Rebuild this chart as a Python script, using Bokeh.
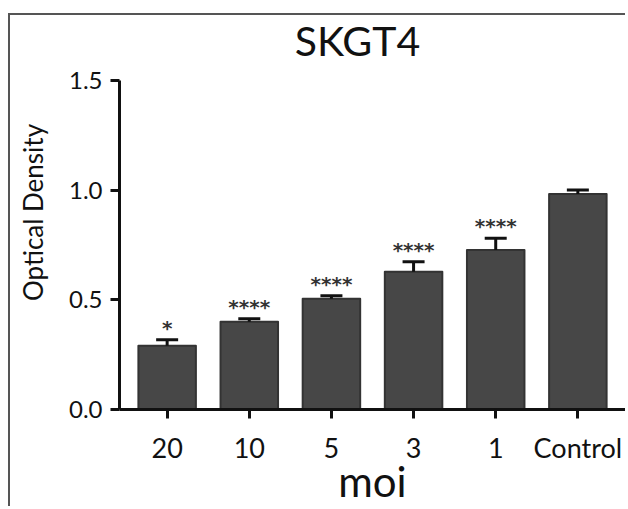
from bokeh.plotting import figure
from bokeh.models import (ColumnDataSource, FactorRange, Range1d, FixedTicker,
                          Whisker, TeeHead)
from bokeh.core.properties import value
from bokeh.embed import file_html
from bokeh.resources import INLINE

# ---- data ----
title_text = "SKGT4"
categories = ["20", "10", "5", "3", "1", "Control"]
means = [0.29, 0.40, 0.505, 0.627, 0.727, 0.982]
errors = [0.028, 0.013, 0.013, 0.046, 0.053, 0.018]
stars = ["*", "****", "****", "****", "****", ""]
y_ticks = [0.0, 0.5, 1.0, 1.5]
y_tick_labels = ["0.0", "0.5", "1.0", "1.5"]
y_axis_extent = (0.0, 1.5)

FONT = "Lato"
Y_TOP = 1.795          # frame extends above the axis to hold the title

src = ColumnDataSource(dict(
    cat=categories,
    mean=means,
    upper=[m + e for m, e in zip(means, errors)],
    stars=stars,
))

p = figure(
    width=617, height=493,
    x_range=FactorRange(factors=categories, range_padding=0.08,
                        range_padding_units="absolute"),
    y_range=Range1d(0, Y_TOP),
    output_backend="svg", toolbar_location=None,
    min_border_left=109, min_border_right=2,
    min_border_top=0, min_border_bottom=98,
)
p.margin = (13, 0, 0, 8)
p.styles = {"border-top": "2px solid #555555", "border-left": "2px solid #555555"}

p.outline_line_color = None
p.background_fill_color = "white"
p.border_fill_color = "white"
p.xgrid.grid_line_color = None
p.ygrid.grid_line_color = None

# title (drawn inside the top of the frame)
p.text(x=[categories[2]], y=[1.6], text=[title_text],
       text_font=value(FONT), text_font_size="41px", text_color="#111111",
       text_align="center", text_baseline="alphabetic",
       x_offset=26, y_offset=-18)

# bars
p.vbar(x="cat", top="mean", width=0.7, source=src,
       fill_color="#474747", line_color="#333333", line_width=2,
       line_join="round")

# error bars (upper only)
w = Whisker(source=src, base="cat", upper="upper", lower="mean",
            upper_head=TeeHead(size=22, line_width=3, line_color="#111111"),
            lower_head=None, line_width=3, line_color="#111111",
            level="annotation")
p.add_layout(w)

# significance stars
p.text(x="cat", y="upper", text="stars", source=src,
       text_font=value("DejaVu Sans"), text_font_size="20px",
       text_font_style="bold", text_color="#333333",
       text_align="center", text_baseline="alphabetic", y_offset=-12)

# axes
for ax in (p.xaxis[0], p.yaxis[0]):
    ax.axis_line_width = 3
    ax.axis_line_color = "#111111"
    ax.major_tick_line_width = 3
    ax.major_tick_line_color = "#111111"
    ax.major_tick_in = 0
    ax.major_tick_out = 9
    ax.minor_tick_line_color = None
    ax.major_label_text_font = FONT
    ax.major_label_text_color = "#111111"

p.yaxis.bounds = y_axis_extent
p.yaxis.ticker = FixedTicker(ticks=y_ticks)
p.yaxis.major_label_overrides = {t: l for t, l in zip(y_ticks, y_tick_labels)}
p.yaxis.major_label_text_font_size = "24px"
p.yaxis.major_label_standoff = 8
p.yaxis.axis_label = "Optical Density"
p.yaxis.axis_label_text_font = FONT
p.yaxis.axis_label_text_font_size = "26px"
p.yaxis.axis_label_text_font_style = "normal"
p.yaxis.axis_label_text_color = "#111111"
p.yaxis.axis_label_standoff = 17

p.xaxis.major_label_text_font_size = "27px"
p.xaxis.major_label_standoff = 12
p.xaxis.axis_label = "moi"
p.xaxis.axis_label_text_font = FONT
p.xaxis.axis_label_text_font_size = "42px"
p.xaxis.axis_label_text_font_style = "normal"
p.xaxis.axis_label_text_color = "#111111"
p.xaxis.axis_label_standoff = -11

open("out.html", "w").write(file_html(p, INLINE))
